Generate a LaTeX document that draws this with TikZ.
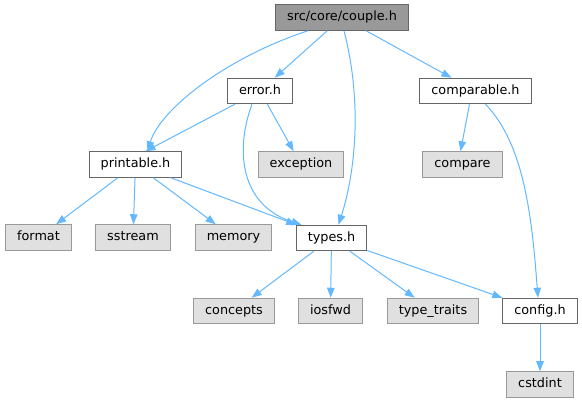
\documentclass[tikz,border=0pt]{standalone}
\usepackage{fontspec}
\setmainfont{DejaVu Sans}
\usetikzlibrary{arrows.meta}
\definecolor{edgeblue}{HTML}{63B8FF}
\definecolor{boxline}{HTML}{666666}
\definecolor{sysline}{HTML}{999999}
\definecolor{sysfill}{HTML}{E0E0E0}

\begin{document}
\begin{tikzpicture}[x=1pt, y=-1pt,
    hdr/.style={draw=boxline, fill=white, line width=1pt, minimum height=25.5pt, inner xsep=11.5pt, inner ysep=0pt,
                text height=9.6pt, text depth=2.6pt, font=\fontsize{12.8}{15}\selectfont},
    sys/.style={hdr, draw=sysline, fill=sysfill},
    root/.style={hdr, fill=sysline},
    dep/.style={draw=edgeblue, line width=1pt, -{Triangle[length=10pt, width=7.5pt]}}
]
\useasboundingbox (0,0) rectangle (582,403);
\node[root] (couple) at (342,17.5) {src/core/couple.h};
\node[hdr] (error) at (260,91) {error.h};
\node[hdr] (comparable) at (475.5,91) {comparable.h};
\node[hdr] (printable) at (135.5,164.5) {printable.h};
\node[sys] (exception) at (301,164.5) {exception};
\node[sys] (compare) at (462.5,164.5) {compare};
\node[sys] (format) at (38.5,237.5) {format};
\node[sys] (sstream) at (133,237.5) {sstream};
\node[sys] (memory) at (233.5,237.5) {memory};
\node[hdr] (types) at (331.5,238) {types.h};
\node[sys] (concepts) at (234,311) {concepts};
\node[sys] (iosfwd) at (330.5,311) {iosfwd};
\node[sys] (traits) at (433,311) {type\_traits};
\node[hdr] (config) at (540,311) {config.h};
\node[sys] (cstdint) at (540,384.5) {cstdint};

\draw[dep] (couple) -- (error);
\draw[dep] (couple) -- (comparable);
\draw[dep] ([xshift=-34pt]couple.south) .. controls (225,58) and (160,110) .. ([xshift=12pt]printable.north);
\draw[dep] ([xshift=2pt]couple.south) .. controls (362,100) and (356,170) .. ([xshift=7pt]types.north);
\draw[dep] (error) -- ([xshift=10pt]printable.north);
\draw[dep] (error) -- (exception);
\draw[dep] ([xshift=-8pt]error.south) .. controls (235,150) and (240,205) .. ([xshift=-30pt]types.north);
\draw[dep] ([xshift=-6pt]comparable.south) -- ([xshift=-2pt]compare.north);
\draw[dep] ([xshift=10pt]comparable.south) .. controls (525,145) and (532,220) .. ([xshift=-2pt]config.north);
\draw[dep] (printable) -- (format);
\draw[dep] (printable) -- (sstream);
\draw[dep] (printable) -- (memory);
\draw[dep] (printable) -- (types);
\draw[dep] (types) -- (concepts);
\draw[dep] (types) -- (iosfwd);
\draw[dep] (types) -- (traits);
\draw[dep] (types) -- (config);
\draw[dep] (config) -- (cstdint);
\end{tikzpicture}
\end{document}
